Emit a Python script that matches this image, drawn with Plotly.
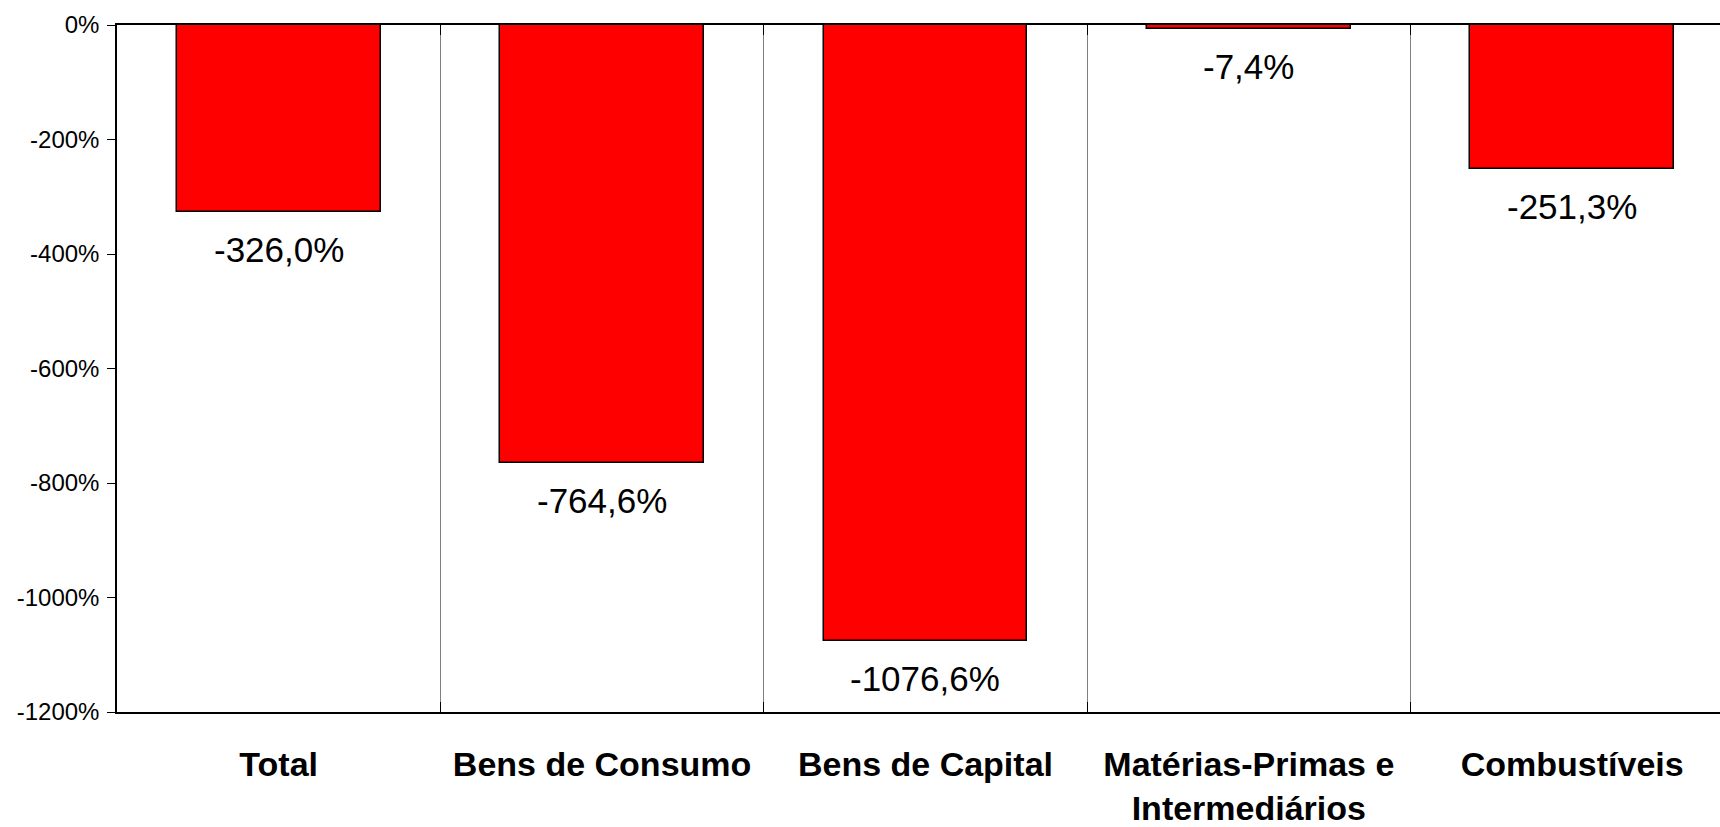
import plotly.graph_objects as go

categories = ["Total", "Bens de Consumo", "Bens de Capital",
              "Matérias-Primas e<br>Intermediários", "Combustíveis"]
values = [-326.0, -764.6, -1076.6, -7.4, -251.3]
value_labels = ["-326,0%", "-764,6%", "-1076,6%", "-7,4%", "-251,3%"]
y_tickvals = [0, -200, -400, -600, -800, -1000, -1200]
y_ticktext = ["0%", "-200%", "-400%", "-600%", "-800%", "-1000%", "-1200%"]

FONT = "Liberation Sans, Arial, Helvetica, sans-serif"

fig = go.Figure()
fig.add_trace(go.Bar(
    x=categories, y=values, width=0.63,
    marker=dict(color="#FF0000", line=dict(color="#000000", width=1.5)),
    hoverinfo="skip",
))

for c, v, t in zip(categories, values, value_labels):
    fig.add_annotation(x=c, y=v, text=t, showarrow=False, yanchor="top",
                       yshift=-16, font=dict(family=FONT, size=35, color="#000000"))

fig.update_layout(
    width=1720, height=827,
    margin=dict(l=117, r=0, t=25, b=108),
    paper_bgcolor="white", plot_bgcolor="white",
    showlegend=False,
    bargap=0,
)
fig.update_xaxes(
    range=[-0.5, 4.457],
    tickson="boundaries", showgrid=True, gridcolor="#808080", gridwidth=1,
    ticks="inside", ticklen=10, tickcolor="#000000",
    showline=True, linecolor="#000000", linewidth=1.5, mirror="ticks",
    tickfont=dict(family=FONT, size=34, color="#000000", weight="bold"),
    ticklabelstandoff=21,
    zeroline=False,
)
fig.update_yaxes(
    range=[-1200, 0],
    tickvals=y_tickvals, ticktext=y_ticktext,
    ticks="outside", ticklen=8, tickcolor="#000000",
    showline=True, linecolor="#000000", linewidth=1.5,
    showgrid=False, zeroline=False,
    tickfont=dict(family=FONT, size=24, color="#000000"),
    ticklabelstandoff=3,
)

fig.write_html(
    "out.html",
    config={"displayModeBar": False},
    post_script=("document.body.style.margin='0';"
                 "document.body.style.overflow='hidden';"
                 "document.documentElement.style.overflow='hidden';"),
)
